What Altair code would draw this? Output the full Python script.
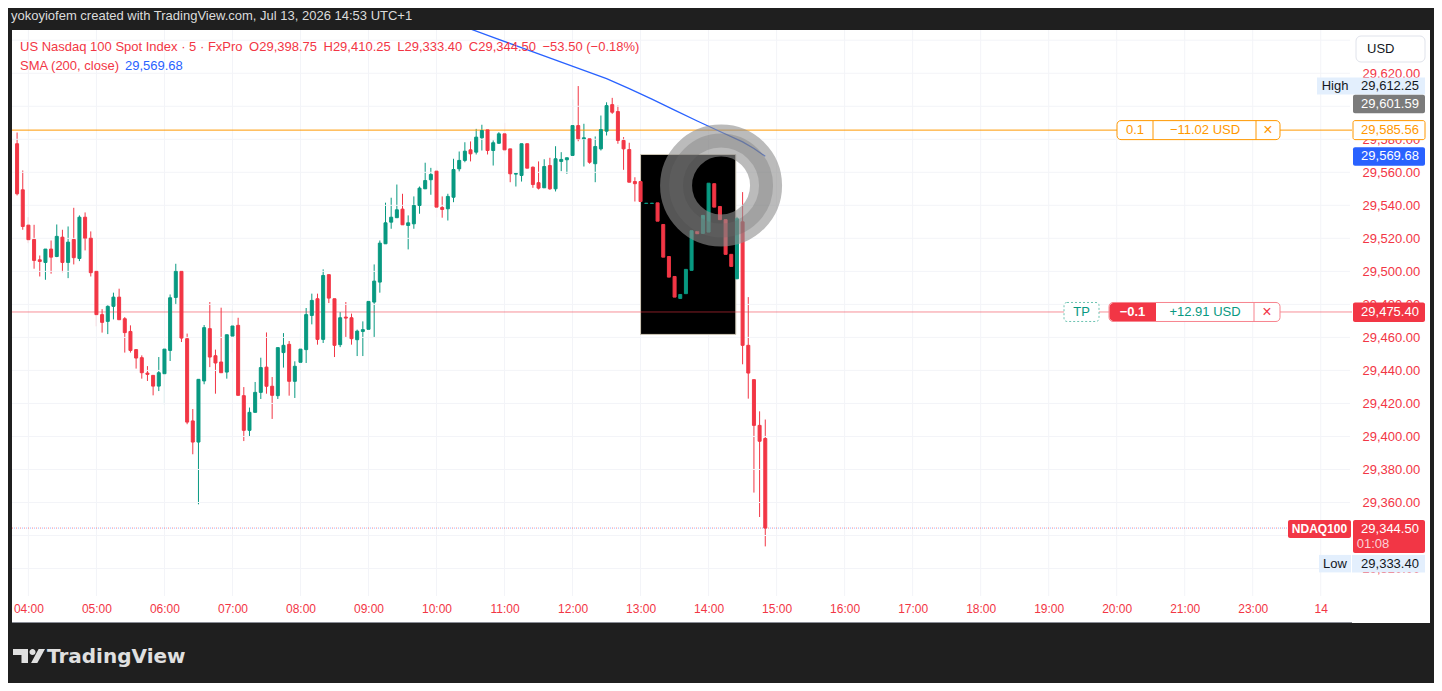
import altair as alt
import pandas as pd

GREEN = "#089981"
RED = "#f23645"
ORANGE = "#ff9800"
BLUE = "#2962ff"
FONT = "Liberation Sans"

# ---------------- data ----------------
START = "03:50"  # first (partly hidden) 5-minute candle
opens = [29577.3, 29549.4, 29528.0, 29519.3, 29507.0, 29505.4, 29513.5, 29509.0, 29520.7, 29505.4,
         29519.3, 29507.8, 29532.8, 29520.1, 29500.0, 29473.8, 29469.7, 29478.8, 29484.4, 29471.3,
         29463.6, 29452.6, 29447.7, 29438.4, 29437.0, 29430.5, 29438.0, 29452.1, 29484.2, 29500.0,
         29459.2, 29409.4, 29396.6, 29433.6, 29465.3, 29448.9, 29445.1, 29439.0, 29460.8, 29467.3,
         29424.7, 29403.7, 29414.6, 29426.7, 29442.0, 29430.4, 29424.7, 29450.8, 29455.8, 29433.4,
         29444.9, 29452.6, 29473.3, 29483.4, 29458.8, 29498.0, 29483.4, 29455.6, 29472.3, 29471.9,
         29458.6, 29463.6, 29464.9, 29481.4, 29493.5, 29516.7, 29529.8, 29532.5, 29537.7, 29527.8,
         29528.8, 29539.9, 29550.0, 29555.5, 29560.7, 29538.7, 29537.9, 29544.9, 29562.1, 29567.2,
         29573.6, 29572.2, 29580.9, 29585.7, 29573.2, 29577.6, 29583.3, 29574.2, 29558.9, 29558.1,
         29577.3, 29563.1, 29553.7, 29550.6, 29564.1, 29550.0, 29566.6, 29567.6, 29570.2, 29588.3,
         29580.3, 29580.3, 29565.2, 29574.2, 29584.9, 29601.0, 29596.8, 29579.3, 29573.8, 29554.4,
         29554.4, 29541.1, 29541.1, 29541.5, 29528.4, 29509.0, 29496.9, 29483.6, 29486.5, 29500.6,
         29524.2, 29523.0, 29523.8, 29553.1, 29539.3, 29531.3, 29510.3, 29495.5, 29530.0, 29455.2,
         29434.4, 29406.7, 29398.75]
highs = [29584.1, 29561.1, 29532.8, 29528.2, 29509.6, 29513.5, 29518.7, 29528.4, 29525.2, 29527.2,
         29538.5, 29533.9, 29535.7, 29524.2, 29500.0, 29477.1, 29479.4, 29487.1, 29489.5, 29472.3,
         29467.3, 29452.9, 29449.1, 29442.6, 29437.0, 29448.1, 29452.9, 29486.0, 29504.6, 29500.0,
         29462.3, 29416.6, 29434.6, 29467.5, 29481.4, 29452.6, 29478.0, 29461.6, 29477.0, 29471.9,
         29429.9, 29417.5, 29433.0, 29447.7, 29463.0, 29436.0, 29453.8, 29462.6, 29457.8, 29445.5,
         29462.3, 29477.8, 29486.5, 29486.5, 29501.2, 29498.0, 29483.4, 29475.3, 29481.4, 29474.4,
         29464.7, 29469.7, 29490.1, 29504.2, 29518.7, 29541.6, 29544.6, 29552.6, 29547.0, 29533.9,
         29545.4, 29551.4, 29565.8, 29562.7, 29563.7, 29545.4, 29547.0, 29568.2, 29572.6, 29578.2,
         29578.7, 29586.3, 29588.8, 29585.7, 29579.3, 29584.3, 29590.0, 29574.2, 29559.3, 29577.3,
         29577.3, 29563.5, 29566.6, 29567.9, 29568.8, 29575.8, 29572.2, 29568.8, 29604.1, 29612.25,
         29589.4, 29580.3, 29581.7, 29594.4, 29602.4, 29605.1, 29600.4, 29581.3, 29577.9, 29557.0,
         29563.1, 29547.0, 29568.8, 29548.4, 29529.8, 29509.0, 29496.9, 29488.0, 29506.6, 29527.2,
         29527.2, 29536.9, 29559.7, 29555.0, 29541.6, 29531.3, 29513.7, 29533.0, 29548.0, 29484.4,
         29434.4, 29415.2, 29410.25]
lows = [29546.0, 29525.2, 29517.1, 29501.6, 29496.9, 29494.9, 29498.6, 29508.6, 29499.5, 29495.9,
        29504.2, 29506.2, 29512.7, 29496.9, 29466.7, 29462.9, 29462.0, 29470.9, 29470.7, 29450.8,
        29450.8, 29441.1, 29435.0, 29433.6, 29424.9, 29427.5, 29419.3, 29445.7, 29479.8, 29457.2,
        29407.4, 29389.2, 29358.9, 29431.6, 29442.0, 29425.9, 29438.6, 29435.0, 29450.8, 29424.9,
        29397.2, 29400.1, 29414.6, 29422.7, 29425.9, 29410.6, 29422.7, 29441.7, 29424.7, 29423.3,
        29419.5, 29444.5, 29467.9, 29455.6, 29456.6, 29480.8, 29448.1, 29454.1, 29460.2, 29455.6,
        29448.7, 29448.7, 29460.6, 29460.2, 29487.1, 29516.7, 29525.8, 29532.5, 29528.2, 29513.3,
        29525.8, 29534.9, 29550.0, 29546.4, 29532.8, 29532.5, 29530.8, 29541.9, 29560.5, 29566.1,
        29566.6, 29570.8, 29573.2, 29570.8, 29564.1, 29577.3, 29570.8, 29554.0, 29551.4, 29554.4,
        29562.5, 29550.6, 29549.6, 29550.6, 29549.4, 29548.4, 29560.7, 29559.1, 29570.2, 29578.8,
        29563.5, 29565.2, 29554.0, 29573.2, 29582.3, 29595.4, 29577.3, 29561.5, 29554.0, 29542.3,
        29530.4, 29522.8, 29506.6, 29517.7, 29506.2, 29494.9, 29470.3, 29468.7, 29478.8, 29498.9,
        29515.3, 29519.9, 29522.8, 29531.9, 29527.4, 29509.6, 29500.2, 29495.5, 29443.7, 29422.9,
        29366.0, 29351.2, 29333.40]
closes = [29547.0, 29527.2, 29519.2, 29506.6, 29506.0, 29513.5, 29508.6, 29521.2, 29505.4, 29517.7,
          29508.3, 29532.8, 29520.1, 29499.2, 29473.8, 29469.1, 29478.8, 29484.4, 29470.7, 29462.9,
          29452.1, 29447.5, 29438.6, 29437.6, 29430.5, 29438.6, 29452.9, 29484.0, 29500.0, 29459.6,
          29408.7, 29396.6, 29434.6, 29465.9, 29448.1, 29444.5, 29438.6, 29461.6, 29466.9, 29424.9,
          29403.7, 29414.6, 29426.7, 29441.7, 29430.4, 29424.9, 29453.8, 29455.2, 29433.4, 29442.5,
          29452.9, 29473.8, 29482.4, 29458.8, 29497.5, 29483.8, 29455.2, 29471.9, 29471.7, 29459.2,
          29463.8, 29464.7, 29481.8, 29494.1, 29517.1, 29529.4, 29532.8, 29537.3, 29528.2, 29529.4,
          29539.9, 29550.4, 29555.0, 29558.7, 29538.9, 29537.5, 29545.4, 29561.7, 29567.2, 29572.8,
          29571.2, 29581.3, 29585.3, 29573.2, 29577.9, 29583.3, 29573.6, 29559.1, 29559.3, 29577.3,
          29562.5, 29552.6, 29550.4, 29563.5, 29550.0, 29568.2, 29567.8, 29568.8, 29588.3, 29580.3,
          29580.9, 29566.1, 29575.6, 29585.9, 29600.4, 29596.4, 29579.3, 29574.2, 29554.0, 29553.1,
          29542.3, 29541.3, 29541.3, 29530.4, 29508.6, 29496.5, 29484.4, 29486.0, 29501.2, 29524.6,
          29522.8, 29533.9, 29553.4, 29538.9, 29531.3, 29510.3, 29503.0, 29531.9, 29455.2, 29438.4,
          29406.7, 29397.1, 29344.50]

SMA_TIMES = ["10:30", "10:50", "11:10", "11:30", "11:50", "12:10", "12:30", "12:50",
             "13:10", "13:30", "13:50", "14:10", "14:30", "14:40", "14:50"]
SMA_VALUES = [29646.8, 29641.7, 29636.7, 29631.7, 29626.7, 29621.8, 29616.8, 29610.7,
              29604.3, 29597.7, 29591.1, 29584.7, 29578.4, 29574.4, 29569.68]

TIME_TICKS = list(range(4, 24))
TIME_LABELS = ["04:00", "05:00", "06:00", "07:00", "08:00", "09:00", "10:00", "11:00", "12:00",
               "13:00", "14:00", "15:00", "16:00", "17:00", "18:00", "19:00", "20:00", "21:00",
               "23:00", "14"]
# price grid every 20 points; labels hidden under tags in the reference are left out
PRICE_GRID = list(range(29320, 29641, 20))
PRICE_LABELS = [29320, 29360, 29380, 29400, 29420, 29440, 29460, 29480, 29500, 29520,
                29540, 29560, 29580, 29620]

STOP_PRICE = 29585.56
TP_PRICE = 29475.40
LAST_PRICE = 29344.50
SMA_LAST = 29569.68
HIGH_PRICE = 29612.25
LOW_PRICE = 29333.40
PREV_PRICE = 29601.59

BOX_TIMES = ["13:00", "14:24"]
BOX_PRICES = [29461.8, 29570.8]
SMOKE_TIME = "14:11"
SMOKE_PRICE = 29552.0


def to_hour(s):
    h, m = s.split(":")
    return int(h) + int(m) / 60


start_h = to_hour(START)
hours = [start_h + i * 5 / 60 for i in range(len(opens))]
df = pd.DataFrame({"hour": hours, "open": opens, "high": highs, "low": lows, "close": closes})
df["dir"] = ["up" if c >= o else "down" for o, c in zip(opens, closes)]

sma_df = pd.DataFrame({"hour": [to_hour(t) for t in SMA_TIMES], "sma": SMA_VALUES})

# ---------------- scales / axes ----------------
W, H = 1418, 593
xs = alt.Scale(domain=[3.8321, 24.5328], nice=False, zero=False)
ys = alt.Scale(domain=[29287.0, 29646.2], nice=False, zero=False)
col = alt.Scale(domain=["up", "down"], range=[GREEN, RED])

label_expr = "[" + ",".join("'%s'" % t for t in TIME_LABELS) + "][round(datum.value) - 4]"
x_axis = alt.Axis(values=TIME_TICKS, labelExpr=label_expr, orient="bottom", offset=-27,
                  domain=False, ticks=False, grid=False, labelColor=RED, labelFont=FONT,
                  labelFontSize=12, labelPadding=7, labelOverlap=False, labelFlush=False,
                  zindex=0, title=None)
y_axis = alt.Axis(values=PRICE_LABELS, format=",.2f", orient="right", offset=-80,
                  domain=False, ticks=False, grid=False, labelColor=RED, labelFont=FONT,
                  labelFontSize=13, labelPadding=12, labelAlign="left", labelBaseline="middle",
                  labelOverlap=False, labelFlush=False, zindex=0, title=None)


def px(page_x):
    return page_x - 12


def py(page_y):
    return page_y - 30


one = pd.DataFrame({"a": [0]})

# ---------------- layers ----------------
GRID = "#f3f4f8"
hgrid = alt.Chart(pd.DataFrame({"p": PRICE_GRID})).mark_rule(color=GRID).encode(
    y=alt.Y("p:Q", scale=ys, axis=None), x=alt.value(0), x2=alt.value(px(1350)))
vgrid = alt.Chart(pd.DataFrame({"h": TIME_TICKS})).mark_rule(color=GRID).encode(
    x=alt.X("h:Q", scale=xs, axis=None), y=alt.value(0), y2=alt.value(py(596)))
bottom_edge = alt.Chart(one).mark_rule(color="#8a8d96", strokeWidth=1).encode(
    x=alt.value(0), x2=alt.value(px(1352)), y=alt.value(py(622.5)))

box = alt.Chart(pd.DataFrame({"x1": [to_hour(BOX_TIMES[0])], "x2": [to_hour(BOX_TIMES[1])],
                              "p1": [BOX_PRICES[0]], "p2": [BOX_PRICES[1]]})).mark_rect(
    fill="black", stroke="#cfc8b8", strokeWidth=1).encode(
    x=alt.X("x1:Q", scale=xs, axis=None), x2="x2:Q",
    y=alt.Y("p1:Q", scale=ys, axis=None), y2="p2:Q")


def hline(price, color, x_end, opacity=1.0, dash=None, dash_offset=None):
    kw = dict(color=color, strokeWidth=1, opacity=opacity)
    if dash is not None:
        kw["strokeDash"] = dash
    if dash_offset is not None:
        kw["strokeDashOffset"] = dash_offset
    return alt.Chart(pd.DataFrame({"p": [price]})).mark_rule(**kw).encode(
        y=alt.Y("p:Q", scale=ys, axis=None), x=alt.value(0), x2=alt.value(px(x_end)))


stop_line = hline(STOP_PRICE, ORANGE, 1352)
tp_line = hline(TP_PRICE, RED, 1352, opacity=0.55)
last_line_r = hline(LAST_PRICE, RED, 1288, opacity=0.6, dash=[1, 3])
last_line_b = hline(LAST_PRICE, BLUE, 1288, opacity=0.45, dash=[1, 3], dash_offset=2)

wick = alt.Chart(df).mark_rule(strokeWidth=1).encode(
    x=alt.X("hour:Q", scale=xs, axis=x_axis),
    y=alt.Y("low:Q", scale=ys, axis=y_axis),
    y2="high:Q",
    color=alt.Color("dir:N", scale=col, legend=None))
body = alt.Chart(df).mark_bar(size=3, strokeWidth=1).encode(
    x=alt.X("hour:Q", scale=xs, axis=None),
    y=alt.Y("open:Q", scale=ys, axis=None),
    y2="close:Q",
    color=alt.Color("dir:N", scale=col, legend=None),
    stroke=alt.Stroke("dir:N", scale=col, legend=None))

sma = alt.Chart(sma_df).mark_line(color=BLUE, strokeWidth=1.3, clip=True).encode(
    x=alt.X("hour:Q", scale=xs, axis=None), y=alt.Y("sma:Q", scale=ys, axis=None))

smoke_df = pd.DataFrame({"h": [to_hour(SMOKE_TIME)], "p": [SMOKE_PRICE]})
smoke1 = alt.Chart(smoke_df).mark_point(
    shape="circle", filled=False, size=8100, strokeWidth=32, color="#8f8f8f", opacity=0.6).encode(
    x=alt.X("h:Q", scale=xs, axis=None), y=alt.Y("p:Q", scale=ys, axis=None))
smoke2 = alt.Chart(smoke_df).mark_point(
    shape="circle", filled=False, size=8100, strokeWidth=14, color="#6a6a6a", opacity=0.3).encode(
    x=alt.X("h:Q", scale=xs, axis=None), y=alt.Y("p:Q", scale=ys, axis=None))


def tbox(price, x1, x2, d1, d2, fill, stroke=None, dash=None, radius=None, left_radius=None):
    kw = dict(fill=fill, yOffset=d1, y2Offset=d2)
    if stroke is not None:
        kw["stroke"] = stroke
        kw["strokeWidth"] = 1
    if dash is not None:
        kw["strokeDash"] = dash
    if radius is not None:
        kw["cornerRadius"] = radius
    if left_radius is not None:
        kw["cornerRadiusTopLeft"] = left_radius
        kw["cornerRadiusBottomLeft"] = left_radius
    return alt.Chart(pd.DataFrame({"p": [price]})).mark_rect(**kw).encode(
        x=alt.value(px(x1)), x2=alt.value(px(x2)),
        y=alt.Y("p:Q", scale=ys, axis=None), y2="p:Q")


def tdiv(price, x, d1, d2, color):
    return alt.Chart(pd.DataFrame({"p": [price]})).mark_rule(
        color=color, strokeWidth=1, yOffset=d1, y2Offset=d2).encode(
        x=alt.value(px(x)), y=alt.Y("p:Q", scale=ys, axis=None), y2="p:Q")


def ttext(price, x, dy, text, color, size=13, weight="normal", align="center", font=FONT):
    return alt.Chart(pd.DataFrame({"p": [price]})).mark_text(
        align=align, baseline="middle", dy=dy, font=font, fontSize=size,
        fontWeight=weight, color=color).encode(
        x=alt.value(px(x)), y=alt.Y("p:Q", scale=ys, axis=None), text=alt.value(text))


LIGHT = "#e3effd"
INK = "#131722"
tags = [
    # High
    tbox(HIGH_PRICE, 1317, 1352, -8.5, 8.5, LIGHT),
    ttext(HIGH_PRICE, 1335, 0, "High", INK),
    tbox(HIGH_PRICE, 1352, 1425, -8.5, 8.5, LIGHT),
    ttext(HIGH_PRICE, 1390, 0, "29,612.25", INK),
    # previous close (gray)
    tbox(PREV_PRICE, 1353, 1425, -9, 9.5, "#7b7b7b", radius=2),
    ttext(PREV_PRICE, 1390, 0, "29,601.59", "white"),
    # stop line price tag
    tbox(STOP_PRICE, 1353, 1425, -9.5, 9.5, "white", stroke=ORANGE, radius=2),
    ttext(STOP_PRICE, 1390, 0, "29,585.56", ORANGE),
    # SMA tag
    tbox(SMA_LAST, 1353, 1425, -9, 9.5, BLUE, radius=2),
    ttext(SMA_LAST, 1390, 0, "29,569.68", "white"),
    # TP tag
    tbox(TP_PRICE, 1353, 1425, -9.5, 10, RED, radius=2),
    ttext(TP_PRICE, 1390, 0, "29,475.40", "white"),
    # last price
    tbox(LAST_PRICE, 1288, 1351, -8, 10, RED, radius=2),
    ttext(LAST_PRICE, 1319.5, 1, "NDAQ100", "white", size=12, weight="bold"),
    tbox(LAST_PRICE, 1353, 1425, -8, 25, RED, radius=2),
    ttext(LAST_PRICE, 1390, 0.5, "29,344.50", "white"),
    ttext(LAST_PRICE, 1373, 15.5, "01:08", "#fcd0d4", align="center"),
    # Low
    tbox(LOW_PRICE, 1319, 1351, 8.5, 26, LIGHT),
    ttext(LOW_PRICE, 1335, 17.5, "Low", INK),
    tbox(LOW_PRICE, 1352, 1425, 8.5, 26, LIGHT),
    ttext(LOW_PRICE, 1390, 17.5, "29,333.40", INK),
    # stop line order label
    tbox(STOP_PRICE, 1117, 1280, -9.5, 9.5, "white", stroke=ORANGE, radius=4),
    tdiv(STOP_PRICE, 1153, -9.5, 9.5, ORANGE),
    tdiv(STOP_PRICE, 1256, -9.5, 9.5, ORANGE),
    ttext(STOP_PRICE, 1135, 0, "0.1", ORANGE),
    ttext(STOP_PRICE, 1205, 0, "\u221211.02 USD", ORANGE),
    ttext(STOP_PRICE, 1268, 0, "\u00d7", ORANGE, size=16),
    # TP order label
    tbox(TP_PRICE, 1064, 1099, -9.5, 9.5, "white", stroke="#6cc3b1", dash=[2, 2], radius=3),
    ttext(TP_PRICE, 1081.5, 0, "TP", GREEN),
    tbox(TP_PRICE, 1109, 1280, -9.5, 9.5, "white", stroke="#f7848e", radius=4),
    tbox(TP_PRICE, 1109.5, 1156, -9, 9, RED, left_radius=4),
    tdiv(TP_PRICE, 1254, -9.5, 9.5, "#f7848e"),
    ttext(TP_PRICE, 1132.5, 0, "\u22120.1", "white", weight="bold"),
    ttext(TP_PRICE, 1205, 0, "+12.91 USD", GREEN),
    ttext(TP_PRICE, 1267, 0, "\u00d7", RED, size=16),
]

# fixed chrome: USD button, header, legend, logo
usd_box = alt.Chart(one).mark_rect(fill="white", stroke="#e0e3eb", strokeWidth=1, cornerRadius=5).encode(
    x=alt.value(px(1356)), x2=alt.value(px(1425)), y=alt.value(py(36)), y2=alt.value(py(62)))
usd_txt = alt.Chart(one).mark_text(align="left", baseline="middle", font=FONT, fontSize=13,
                                   color=INK).encode(
    x=alt.value(px(1367)), y=alt.value(py(49)), text=alt.value("USD"))

header = alt.Chart(one).mark_text(align="left", baseline="middle", font=FONT, fontSize=13,
                                  color="#dcdcdc").encode(
    x=alt.value(px(11)), y=alt.value(py(16)),
    text=alt.value("yokoyiofem created with TradingView.com, Jul 13, 2026 14:53 UTC+1"))
legend1 = alt.Chart(one).mark_text(align="left", baseline="middle", font=FONT, fontSize=13,
                                   color=RED).encode(
    x=alt.value(px(20)), y=alt.value(py(47)),
    text=alt.value("US Nasdaq 100 Spot Index \u00b7 5 \u00b7 FxPro\u2002O29,398.75\u2002H29,410.25\u2002"
                   "L29,333.40\u2002C29,344.50\u2002\u221253.50 (\u22120.18%)"))
legend2 = alt.Chart(one).mark_text(align="left", baseline="middle", font=FONT, fontSize=13,
                                   color=RED).encode(
    x=alt.value(px(20)), y=alt.value(py(66)), text=alt.value("SMA (200, close)"))
legend3 = alt.Chart(one).mark_text(align="left", baseline="middle", font=FONT, fontSize=13,
                                   color=BLUE).encode(
    x=alt.value(px(125)), y=alt.value(py(66)), text=alt.value("29,569.68"))

LOGO = ("M-1,-0.4375 H-0.0625 V0.4375 H-0.47 V-0.0625 H-1 Z "
        "M0.03,-0.25 A0.19,0.19 0 1 0 0.41,-0.25 A0.19,0.19 0 1 0 0.03,-0.25 Z "
        "M0.13,0.4375 L0.52,0.4375 L1,-0.4375 L0.6,-0.4375 Z")
logo = alt.Chart(one).mark_point(shape=LOGO, filled=True, size=1024, color="#e0e0e0",
                                 opacity=1, strokeWidth=0).encode(
    x=alt.value(px(29)), y=alt.value(py(656)))
logo_txt = alt.Chart(one).mark_text(align="left", baseline="middle", font="DejaVu Sans",
                                    fontSize=20, fontWeight="bold", color="#e0e0e0").encode(
    x=alt.value(px(47)), y=alt.value(py(657)), text=alt.value("TradingView"))

chart = alt.layer(
    wick, hgrid, vgrid, bottom_edge, box, stop_line, tp_line, last_line_r, last_line_b,
    body, sma, smoke1, smoke2, *tags, usd_box, usd_txt, header, legend1, legend2, legend3,
    logo, logo_txt
).resolve_axis(
    x="independent", y="independent"
).properties(
    width=W, height=H, background="#1f1f1f",
    padding={"left": 4, "top": 22, "right": 4, "bottom": 60},
    autosize=alt.AutoSizeParams(type="none"),
).configure_view(fill="white", strokeWidth=0)

chart.save("out.html", embed_options={"renderer": "svg", "actions": False})
